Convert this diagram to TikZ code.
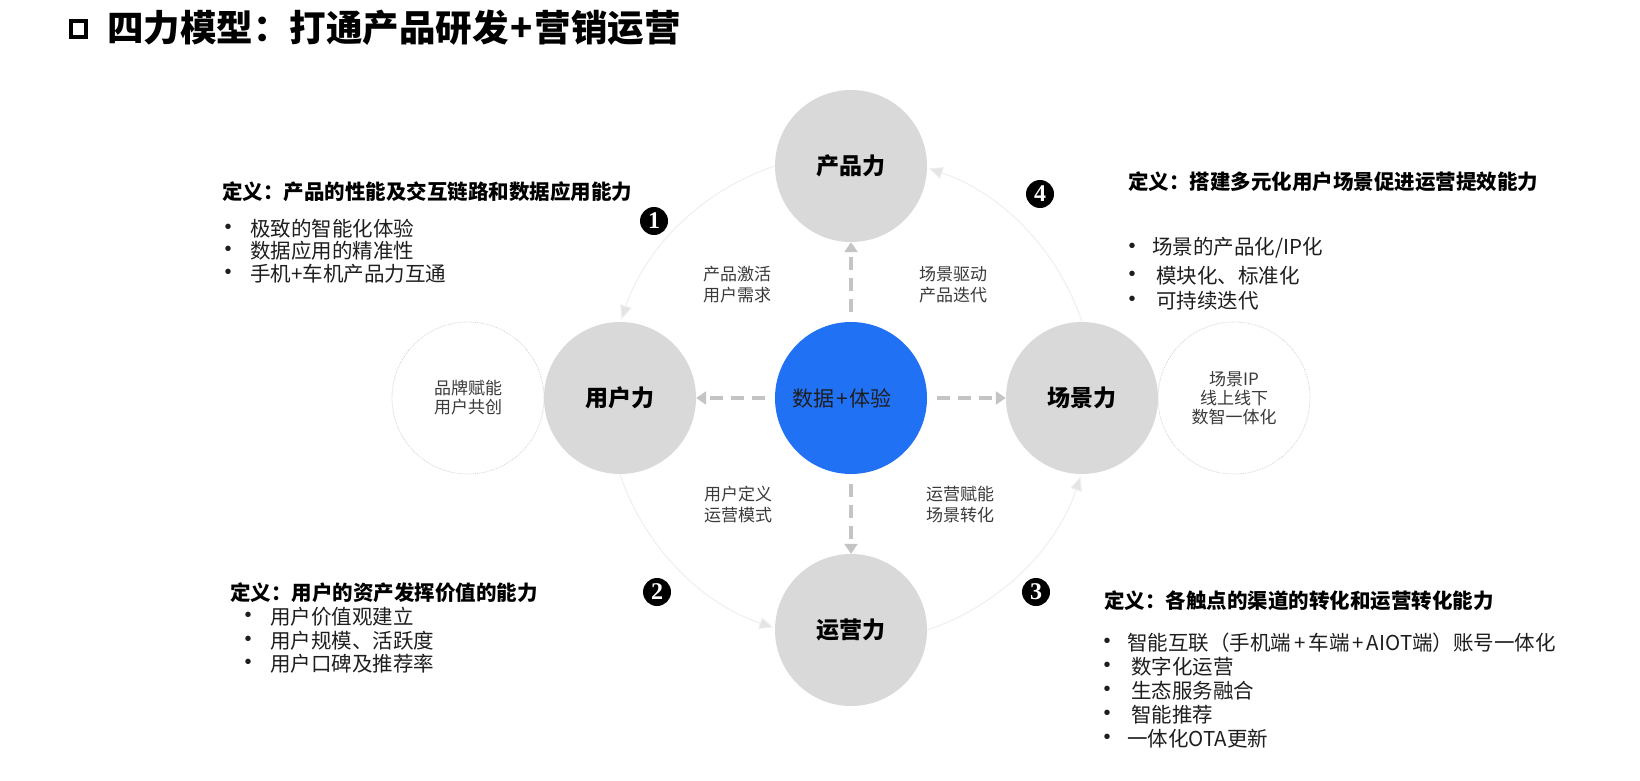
\documentclass[tikz,border=0pt]{standalone}
\usepackage{fontspec}
\setmainfont{Noto Sans CJK SC}
\newfontfamily\numfont{Liberation Serif}
\newfontfamily\bulfont{Liberation Sans}
\usetikzlibrary{arrows.meta}
\definecolor{nodegray}{HTML}{D9D9D9}
\definecolor{datablue}{HTML}{2171F5}
\definecolor{dashgray}{HTML}{C4C4C4}
\definecolor{arcgray}{HTML}{EFEFEF}
\definecolor{tipgray}{HTML}{E4E4E4}
\definecolor{labelgray}{HTML}{3A3A3A}
\definecolor{bodytext}{HTML}{1E1E1E}
\definecolor{rimgray}{HTML}{D4D4D4}
\begin{document}
\begin{tikzpicture}[x=1pt,y=-1pt,
  bignode/.style={circle, fill=nodegray, minimum size=152pt, inner sep=0pt,
    font=\fontsize{23}{27}\selectfont\bfseries, text=black},
  datanode/.style={circle, fill=datablue, minimum size=152pt, inner sep=0pt,
    font=\fontsize{21}{25}\selectfont, text=bodytext},
  sidenode/.style={circle, draw=rimgray, densely dotted, line width=0.8pt, minimum size=152pt,
    inner sep=0pt, align=center, font=\fontsize{17}{19}\selectfont, text=labelgray},
  dasharrow/.style={draw=dashgray, line width=4pt, dash pattern=on 13pt off 8pt,
    shorten <=10pt, -{Triangle[length=10pt,width=13pt]}},
  arcline/.style={draw=arcgray, line width=1pt,
    -{Triangle[length=14pt,width=12pt,fill=tipgray]}},
  numdot/.style={circle, fill=black, text=white, minimum size=28pt, inner sep=0pt,
    font=\numfont\bfseries\fontsize{24}{24}\selectfont},
  midlabel/.style={inner sep=0pt, align=center, font=\fontsize{17}{21}\selectfont, text=labelgray},
  head/.style={inner sep=0pt, anchor=west, font=\fontsize{20.5}{24}\selectfont\bfseries, text=black},
  bul/.style={inner sep=0pt, anchor=center, font=\bulfont\fontsize{20}{24}\selectfont, text=bodytext},
  item/.style={inner sep=0pt, anchor=west, font=\fontsize{20.5}{24}\selectfont, text=bodytext}
]
\fill[white] (0,0) rectangle (1640,781);
\useasboundingbox (0,0) rectangle (1640,781);

% title
\node[draw, line width=3.8pt, minimum size=15.5pt, inner sep=0pt] (tbox) at (78.5,29) {};
\node[inner sep=0pt, anchor=west, font=\fontsize{36.5}{40}\selectfont\bfseries] (title) at (107,28) {四力模型：打通产品研发\hspace{2pt}+\hspace{2pt}营销运营};

% side circles
\node[sidenode] (brand) at (468,398) {品牌赋能\\用户共创};
\node[sidenode] (sip) at (1234,398) {场景IP\\线上线下\\数智一体化};

% main circles
\node[bignode] (prod) at (851,166) {产品力};
\node[bignode] (user) at (620,398) {用户力};
\node[bignode] (scene) at (1082,398) {场景力};
\node[bignode] (ops) at (851,630) {运营力};
\node[datanode] (data) at (851,398) {数据\hspace{1.5pt}+\hspace{1.5pt}体验\hspace*{18pt}};

% cycle arcs
\draw[arcline] (prod.west) arc[start angle=-108.5, end angle=-161.5, radius=243];
\draw[arcline] (user.south) arc[start angle=161.5, end angle=108.5, radius=243];
\draw[arcline] (ops.east) arc[start angle=71.5, end angle=18.5, radius=243];
\draw[arcline] (scene.north) arc[start angle=-18.5, end angle=-71.5, radius=243];

% dashed arrows
\draw[dasharrow] (data) -- (prod);
\draw[dasharrow] (data) -- (user);
\draw[dasharrow] (data) -- (scene);
\draw[dasharrow] (data) -- (ops);

% middle labels
\node[midlabel] (l1) at (737,285) {产品激活\\用户需求};
\node[midlabel] (l2) at (953,285) {场景驱动\\产品迭代};
\node[midlabel] (l3) at (738,505) {用户定义\\运营模式};
\node[midlabel] (l4) at (960,505) {运营赋能\\场景转化};

% numbers
\node[numdot] (n1) at (654,221) {1};
\node[numdot] (n2) at (657,592) {2};
\node[numdot] (n3) at (1036,592) {3};
\node[numdot] (n4) at (1040,194) {4};

% top-left block
\node[head] (tlh) at (222,192) {定义：产品的性能及交互链路和数据应用能力};
\node[bul] (tlb1) at (228,229) {•}; \node[item] (tli1) at (250,229) {极致的智能化体验};
\node[bul] (tlb2) at (228,251) {•}; \node[item] (tli2) at (250,251) {数据应用的精准性};
\node[bul] (tlb3) at (228,274) {•}; \node[item] (tli3) at (250,274) {手机+车机产品力互通};

% top-right block
\node[head] (trh) at (1128,182) {定义：搭建多元化用户场景促进运营提效能力};
\node[bul] (trb1) at (1132,248) {•}; \node[item] (tri1) at (1152,248) {场景的产品化/IP化};
\node[bul] (trb2) at (1132,276) {•}; \node[item] (tri2) at (1156,276) {模块化、标准化};
\node[bul] (trb3) at (1132,301) {•}; \node[item] (tri3) at (1156,301) {可持续迭代};

% bottom-left block
\node[head] (blh) at (230,593) {定义：用户的资产发挥价值的能力};
\node[bul] (blb1) at (248,617) {•}; \node[item] (bli1) at (270,617) {用户价值观建立};
\node[bul] (blb2) at (248,641) {•}; \node[item] (bli2) at (270,641) {用户规模、活跃度};
\node[bul] (blb3) at (248,664) {•}; \node[item] (bli3) at (270,664) {用户口碑及推荐率};

% bottom-right block
\node[head] (brh) at (1104,601) {定义：各触点的渠道的转化和运营转化能力};
\node[bul] (brb1) at (1107,643) {•}; \node[item] (bri1) at (1127,643) {智能互联（手机端\hspace{3pt}+\hspace{3pt}车端\hspace{3pt}+\hspace{3pt}AIOT端）账号一体化};
\node[bul] (brb2) at (1107,667) {•}; \node[item] (bri2) at (1131,667) {数字化运营};
\node[bul] (brb3) at (1107,691) {•}; \node[item] (bri3) at (1131,691) {生态服务融合};
\node[bul] (brb4) at (1107,715) {•}; \node[item] (bri4) at (1131,715) {智能推荐};
\node[bul] (brb5) at (1107,739) {•}; \node[item] (bri5) at (1127,739) {一体化OTA更新};
\end{tikzpicture}
\end{document}
